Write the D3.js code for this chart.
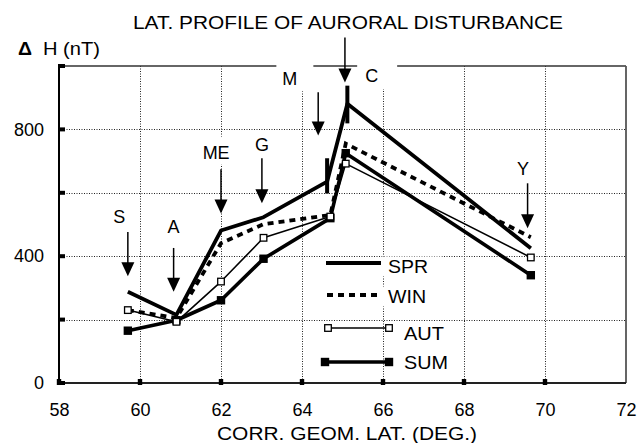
<!DOCTYPE html>
<html><head><meta charset="utf-8">
<script src="https://cdn.jsdelivr.net/npm/d3@7"></script>
<style>
body{margin:0;background:#fff}
svg{display:block}
text{font-family:"Liberation Sans",Arial,Helvetica,sans-serif;fill:#000}
</style>
</head><body><svg id="c" width="638" height="443"></svg>
<script>
// ---------- data ----------
const xTickLabels = [58,60,62,64,66,68,70,72];
const xGridLat = [60,62,64,66,68,70];
const xTickMarks = [58,60,62,64,66,68,70];
const yTickLabels = [0,400,800];
const yGridH = [200,400,600,800];
const yTickMarks = [0,200,400,600,800,1000];

const seriesNames = ["SPR","WIN","AUT","SUM"];
const sprLat = [59.7,60.9,62,63.05,64.62,65.12,69.65];
const sprH   = [288,215,481,523,635,881,425];
const winLat = [59.7,60.9,62,63.05,64.7,65.08,69.65];
const winH   = [230,205,441,501,530,755,460];
const autLat = [59.7,60.9,62,63.05,64.7,65.08,69.65];
const autH   = [230,193,320,458,525,692,396];
const sumLat = [59.7,60.9,62,63.05,64.7,65.08,69.65];
const sumH   = [165,198,261,392,520,725,340];

const barLat = [64.62,65.12];
const barLo  = [598,819];
const barHi  = [709,938];

const stationNames = ["S","A","ME","G","M","C","Y"];
const arrowLat = [59.7,60.83,62,63.01,64.4,65.06,69.57];
const arrowTop = [476,426,674,709,917,1090,630];
const arrowTip = [337,288,535,567,781,948,488];
const labelLat = [59.49,60.83,61.88,63.01,63.7,65.72,69.46];
const labelH   = [505,473,708,732,939,949,655];

const titleText = "LAT. PROFILE OF AURORAL DISTURBANCE";
const xTitle = "CORR. GEOM. LAT. (DEG.)";
const yTitleSym = "\u0394";
const yTitle = "H (nT)";

// ---------- layout ----------
const svg = d3.select("#c");
const L = 59, R = 626, T = 66, B = 383;
const x = d3.scaleLinear().domain([58,72]).range([L,R]);
const y = d3.scaleLinear().domain([0,1000]).range([B,T]);

// gridlines
const grid = svg.append("g").attr("stroke","#222").attr("stroke-width",1).attr("stroke-dasharray","1,1.5");
grid.selectAll("line.v").data(xGridLat).join("line").attr("class","v")
  .attr("x1",d=>Math.round(x(d))+0.5).attr("x2",d=>Math.round(x(d))+0.5).attr("y1",T).attr("y2",B);
grid.selectAll("line.h").data(yGridH).join("line").attr("class","h")
  .attr("y1",d=>Math.round(y(d))+0.5).attr("y2",d=>Math.round(y(d))+0.5).attr("x1",L).attr("x2",R);

// frame top and right
svg.append("line").attr("x1",L).attr("x2",R).attr("y1",T).attr("y2",T).attr("stroke","#333").attr("stroke-width",1.6);
svg.append("line").attr("x1",R).attr("x2",R).attr("y1",T).attr("y2",B).attr("stroke","#555").attr("stroke-width",1.8);

// station labels with white backgrounds
const labelPad = {M:{l:6,r:16,t:7,b:2}, C:{l:8,r:19,t:5,b:3}, ME:{l:2,r:2,t:6,b:2}};
const labG = svg.append("g");
stationNames.forEach((n,i)=>{
  const g = labG.append("g");
  const rect = g.append("rect").attr("fill","#fff");
  const t = g.append("text").attr("x",x(labelLat[i])).attr("y",y(labelH[i]))
    .attr("text-anchor","middle").attr("font-size",18).text(n);
  const bb = t.node().getBBox();
  const p = labelPad[n] || {l:1,r:1,t:0,b:0};
  rect.attr("x",bb.x-p.l).attr("y",bb.y-p.t).attr("width",bb.width+p.l+p.r).attr("height",bb.height+p.t+p.b);
});

// axes (left and bottom)
const axisG = svg.append("g");
const yAxis = d3.axisLeft(y).tickValues(yTickLabels).tickSize(0).tickPadding(15).tickFormat(d3.format("d"));
axisG.append("g").attr("transform",`translate(${L},0)`).call(yAxis)
  .call(g=>{g.select(".domain").remove();g.selectAll("text").attr("font-size",18).attr("font-family","Liberation Sans, Arial, sans-serif").attr("fill","#000");});
const xAxis = d3.axisBottom(x).tickValues(xTickLabels).tickSize(0).tickPadding(20).tickFormat(d3.format("d"));
axisG.append("g").attr("transform",`translate(0,${B})`).call(xAxis)
  .call(g=>{g.select(".domain").remove();g.selectAll("text").attr("font-size",18).attr("font-family","Liberation Sans, Arial, sans-serif").attr("fill","#000");});

svg.append("line").attr("x1",L).attr("x2",L).attr("y1",T-1).attr("y2",B+1).attr("stroke","#000").attr("stroke-width",2);
svg.append("line").attr("x1",L).attr("x2",R).attr("y1",B).attr("y2",B).attr("stroke","#222").attr("stroke-width",2);

// tick squares
svg.selectAll("rect.yt").data(yTickMarks).join("rect").attr("class","yt")
  .attr("x",L-1).attr("y",d=>y(d)-2).attr("width",7).attr("height",4).attr("fill","#000");
svg.selectAll("rect.xt").data(xTickMarks).join("rect").attr("class","xt")
  .attr("x",d=>x(d)-2.2).attr("y",B-4).attr("width",4.4).attr("height",6).attr("fill","#000");

// series
const zip = (a,b)=>a.map((v,i)=>[v,b[i]]);
const line = d3.line().x(d=>x(d[0])).y(d=>y(d[1]));
const sG = svg.append("g").attr("fill","none").attr("stroke","#000").attr("stroke-linejoin","round");
sG.append("path").attr("d",line(zip(autLat,autH))).attr("stroke-width",1.6);
sG.append("path").attr("d",line(zip(sumLat,sumH))).attr("stroke-width",3.6);
sG.append("path").attr("d",line(zip(winLat,winH))).attr("stroke-width",3.8).attr("stroke-dasharray","6,5").attr("stroke-linejoin","miter");
sG.append("path").attr("d",line(zip(sprLat,sprH))).attr("stroke-width",3.8);

// vertical bars
svg.selectAll("line.bar").data(barLat).join("line").attr("class","bar")
  .attr("x1",d=>x(d)).attr("x2",d=>x(d)).attr("y1",(d,i)=>y(barHi[i])).attr("y2",(d,i)=>y(barLo[i]))
  .attr("stroke","#000").attr("stroke-width",4);

// markers
svg.selectAll("rect.sum").data(zip(sumLat,sumH)).join("rect").attr("class","sum")
  .attr("x",d=>x(d[0])-4.2).attr("y",d=>y(d[1])-4.2).attr("width",8.4).attr("height",8.4).attr("fill","#000");
svg.selectAll("rect.aut").data(zip(autLat,autH)).join("rect").attr("class","aut")
  .attr("x",d=>x(d[0])-3.3).attr("y",d=>y(d[1])-3.3).attr("width",6.6).attr("height",6.6)
  .attr("fill","#fff").attr("stroke","#000").attr("stroke-width",1.3);

// arrows
const aG = svg.append("g");
stationNames.forEach((n,i)=>{
  const ax = x(arrowLat[i]), yt = y(arrowTop[i]), yp = y(arrowTip[i]);
  aG.append("line").attr("x1",ax).attr("x2",ax).attr("y1",yt).attr("y2",yp-12).attr("stroke","#000").attr("stroke-width",1.5);
  aG.append("path").attr("d",`M${ax-6.5},${yp-14}L${ax+6.5},${yp-14}L${ax},${yp}Z`).attr("fill","#000");
});

// legend
const lg = svg.append("g");
const legX1 = 326, legX2 = 381;
const legY = [263, 295, 328, 362];
const legTextX = [388, 388, 404, 404];
const legTextY = [272.5, 302.5, 340, 368.5];
const legTextW = [40, 38, 40, 44];
seriesNames.forEach((n,i)=>{
  const r = lg.append("rect").attr("fill","#fff");
  const t = lg.append("text").attr("x",legTextX[i]).attr("y",legTextY[i]).attr("font-size",18)
    .attr("textLength",legTextW[i]).attr("lengthAdjust","spacingAndGlyphs").text(n);
  const bb = t.node().getBBox();
  r.attr("x",bb.x-6).attr("y",bb.y).attr("width",bb.width+20).attr("height",bb.height);
});
lg.append("line").attr("x1",legX1).attr("x2",legX2).attr("y1",legY[0]).attr("y2",legY[0]).attr("stroke","#000").attr("stroke-width",3.8);
lg.append("line").attr("x1",legX1+1).attr("x2",legX2).attr("y1",legY[1]).attr("y2",legY[1]).attr("stroke","#000").attr("stroke-width",3.8).attr("stroke-dasharray","6,5");
lg.append("line").attr("x1",328).attr("x2",389).attr("y1",legY[2]).attr("y2",legY[2]).attr("stroke","#000").attr("stroke-width",1.6);
[328,389].forEach(px=>lg.append("rect").attr("x",px-3.3).attr("y",legY[2]-3.3).attr("width",6.6).attr("height",6.6).attr("fill","#fff").attr("stroke","#000").attr("stroke-width",1.3));
lg.append("line").attr("x1",325).attr("x2",389).attr("y1",legY[3]).attr("y2",legY[3]).attr("stroke","#000").attr("stroke-width",3.6);
[325,389].forEach(px=>lg.append("rect").attr("x",px-4.2).attr("y",legY[3]-4.2).attr("width",8.4).attr("height",8.4).attr("fill","#000"));

// titles
svg.append("text").attr("x",133).attr("y",29).attr("font-size",18)
  .attr("textLength",430).attr("lengthAdjust","spacingAndGlyphs").text(titleText);
svg.append("text").attr("x",217).attr("y",440).attr("font-size",18)
  .attr("textLength",260).attr("lengthAdjust","spacingAndGlyphs").text(xTitle);
svg.append("text").attr("x",18).attr("y",55).attr("font-size",18).attr("font-weight","bold")
  .attr("textLength",14).attr("lengthAdjust","spacingAndGlyphs").text(yTitleSym);
svg.append("text").attr("x",43).attr("y",55).attr("font-size",18)
  .attr("textLength",57).attr("lengthAdjust","spacingAndGlyphs").text(yTitle);
</script>
</body></html>
